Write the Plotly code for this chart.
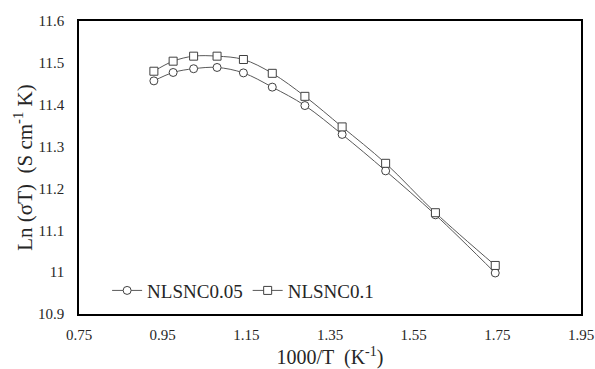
import plotly.graph_objects as go

x_vals = [0.929, 0.975, 1.024, 1.080, 1.143, 1.212, 1.290, 1.379, 1.483, 1.602, 1.745]
nlsnc005 = [11.457, 11.477, 11.486, 11.489, 11.476, 11.442, 11.398, 11.329, 11.242, 11.137, 10.998]
nlsnc01 = [11.480, 11.504, 11.516, 11.516, 11.508, 11.475, 11.420, 11.347, 11.260, 11.142, 11.016]
series_names = ["NLSNC0.05", "NLSNC0.1"]
x_ticks = [0.75, 0.95, 1.15, 1.35, 1.55, 1.75, 1.95]
x_tick_labels = ["0.75", "0.95", "1.15", "1.35", "1.55", "1.75", "1.95"]
y_ticks = [10.9, 11.0, 11.1, 11.2, 11.3, 11.4, 11.5, 11.6]
y_tick_labels = ["10.9", "11", "11.1", "11.2", "11.3", "11.4", "11.5", "11.6"]

font = "Liberation Serif"
fig = go.Figure()
for name, ys, sym in [(series_names[0], nlsnc005, "circle"), (series_names[1], nlsnc01, "square")]:
    fig.add_trace(go.Scatter(
        x=x_vals, y=ys, name=name, mode="lines+markers",
        line=dict(color="#595959", width=1, shape="spline"),
        marker=dict(symbol=sym, size=8, color="white",
                    line=dict(color="#404040", width=1)),
    ))

fig.update_layout(
    width=595, height=369,
    margin=dict(l=79, r=12, t=21, b=55),
    paper_bgcolor="white", plot_bgcolor="white",
    font=dict(family=font, size=15, color="#262626"),
    showlegend=True,
    legend=dict(orientation="h", x=0.056, y=0.08, xanchor="left", yanchor="middle",
                font=dict(size=19, family=font, color="#262626"), bgcolor="rgba(0,0,0,0)",
                itemwidth=30),
    xaxis=dict(range=[0.75, 1.95], tickvals=x_ticks, ticktext=x_tick_labels,
               showgrid=False, zeroline=False, showline=True, mirror=True,
               linecolor="black", linewidth=1.5, ticks="outside", ticklen=6,
               tickcolor="rgba(0,0,0,0)", automargin=False, ticklabeloverflow="allow",
               tickfont=dict(size=15, family=font),
               title=dict(text="1000/T  (K<sup>-1</sup>)", font=dict(size=20, family=font), standoff=9)),
    yaxis=dict(range=[10.9, 11.6], tickvals=y_ticks, ticktext=y_tick_labels,
               showgrid=False, zeroline=False, showline=True, mirror=True,
               linecolor="black", linewidth=1.5, ticks="outside", ticklen=10,
               tickcolor="rgba(0,0,0,0)", automargin=True,
               tickfont=dict(size=15, family=font),
               title=dict(text="Ln (σT)  (S cm<sup>-1</sup> K)", font=dict(size=21, family=font), standoff=0)),
)
fig.write_html("out.html", config={"displayModeBar": False},
               post_script="document.body.style.margin='0px';")
